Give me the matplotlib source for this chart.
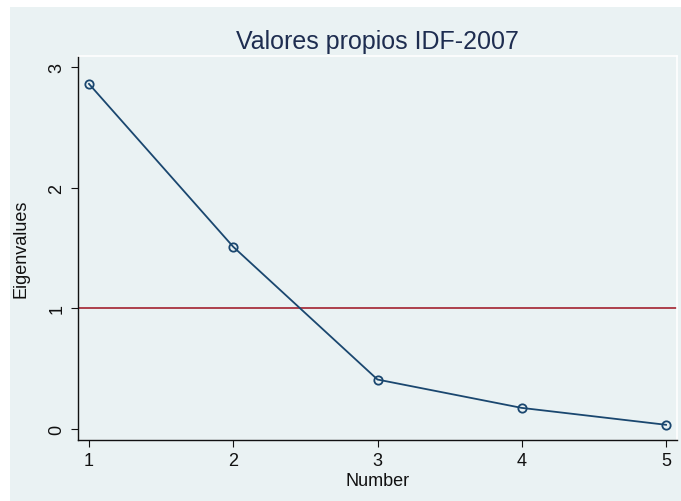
import matplotlib.pyplot as plt
from matplotlib.patches import Rectangle

plt.rcParams['font.family'] = ['Liberation Sans', 'DejaVu Sans']

number = [1, 2, 3, 4, 5]
eigenvalues = [2.86, 1.51, 0.41, 0.175, 0.035]
xticks = [1, 2, 3, 4, 5]
yticks = [0, 1, 2, 3]

bg = '#eaf2f3'
navy = '#1a476f'

W, H = 681, 502
fig = plt.figure(figsize=(W / 100, H / 100), dpi=100)
fig.patch.set_facecolor('white')
fig.patches.append(Rectangle((10 / W, 0), 1 - 10 / W, 1 - 8 / H,
                             transform=fig.transFigure, facecolor=bg,
                             edgecolor='none', zorder=-10))

ax = fig.add_axes([78 / W, 1 - 441 / H, (677 - 78) / W, (441 - 57) / H])
ax.set_facecolor(bg)

ax.axhline(1, color='#a8323e', lw=1.3, zorder=1)
ax.plot(number, eigenvalues, color=navy, lw=1.3, marker='o', markersize=6,
        markerfacecolor='none', markeredgecolor=navy, markeredgewidth=1.3, zorder=2)

ax.set_xlim(0.924, 5.076)
ax.set_ylim(-0.091, 3.091)
ax.set_xticks(xticks)
ax.set_yticks(yticks)
ax.set_yticklabels([str(v) for v in yticks], rotation=90, va='center')
ax.tick_params(axis='both', direction='out', length=5, width=0.8,
               labelsize=13, colors='#111111', pad=4)

for s in ['top', 'right']:
    ax.spines[s].set_color('white')
    ax.spines[s].set_linewidth(1.2)
for s in ['left', 'bottom']:
    ax.spines[s].set_color('#111111')
    ax.spines[s].set_linewidth(1.0)

ax.set_xlabel('Number', fontsize=13, labelpad=2, color='#111111')
ax.set_ylabel('Eigenvalues', fontsize=13, labelpad=14, color='#111111')
ax.set_title('Valores propios IDF-2007', fontsize=18, color='#1e2d50', pad=6)

fig.savefig('out.png', dpi=100, facecolor=fig.get_facecolor())
